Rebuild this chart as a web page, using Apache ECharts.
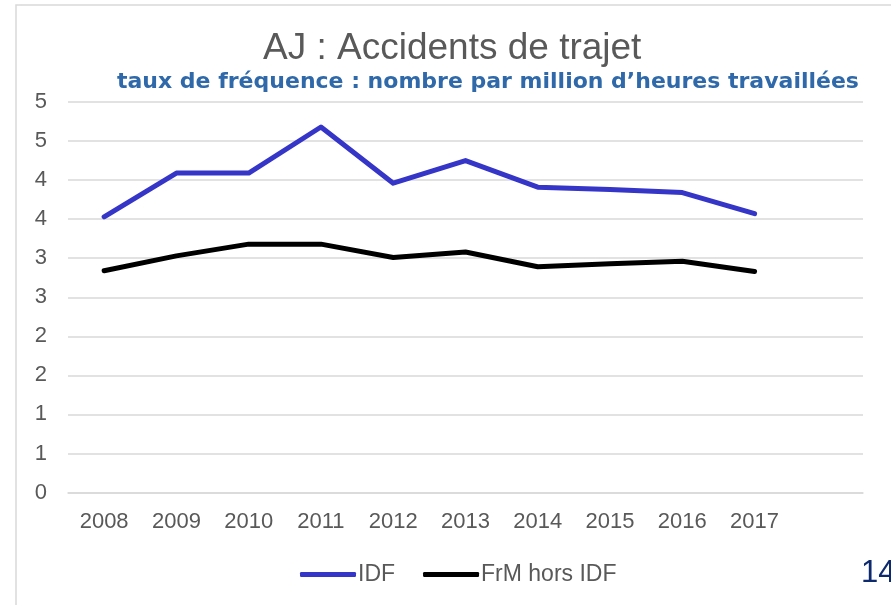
<!DOCTYPE html>
<html lang="fr">
  <head>
    <meta charset="UTF-8" />
    <title>AJ : Accidents de trajet</title>
    <script src="https://cdn.jsdelivr.net/npm/echarts@6/dist/echarts.min.js"></script>
    <style>
      html, body { margin: 0; padding: 0; background: #fff; }
      #main { width: 891px; height: 605px; }
    </style>
  </head>
  <body>
    <div id="main"></div>
    <script>
      // données
      var years = ['2008', '2009', '2010', '2011', '2012', '2013', '2014', '2015', '2016', '2017'];
      var idf = [3.53, 4.09, 4.09, 4.68, 3.96, 4.25, 3.91, 3.88, 3.84, 3.57];
      var frmHorsIdf = [2.84, 3.03, 3.18, 3.18, 3.01, 3.08, 2.89, 2.93, 2.96, 2.83];

      var font = "'Liberation Sans', Arial, sans-serif";
      var chart = echarts.init(document.getElementById('main'));

      chart.setOption({
        animation: false,
        title: [
          {
            text: 'AJ : Accidents de trajet',
            left: 258,
            top: 25,
            textStyle: { fontFamily: font, fontSize: 37, fontWeight: 'normal', color: '#595959' }
          },
          {
            text: 'taux de fréquence : nombre par million d’heures travaillées',
            left: 112,
            top: 66,
            textStyle: { fontFamily: "'DejaVu Sans', sans-serif", fontSize: 22, fontWeight: 'bold', color: '#2f69a9' }
          }
        ],
        legend: {
          left: 295,
          top: 558,
          icon: 'roundRect',
          itemWidth: 56,
          itemHeight: 5,
          itemGap: 28,
          textStyle: { fontFamily: font, fontSize: 23, color: '#595959', padding: [0, 0, 0, -3] },
          data: ['IDF', 'FrM hors IDF']
        },
        grid: { left: 68, right: 28, top: 102, bottom: 112.5, containLabel: false },
        xAxis: {
          type: 'category',
          boundaryGap: true,
          data: years.concat(['']),
          axisLine: { lineStyle: { color: '#d9d9d9', width: 1.5 } },
          axisTick: { show: false },
          axisLabel: { fontFamily: font, fontSize: 22, color: '#595959', margin: 18 }
        },
        yAxis: {
          type: 'value',
          min: 0,
          max: 5,
          interval: 0.5,
          axisLine: { show: false },
          axisTick: { show: false },
          splitLine: { lineStyle: { color: '#d9d9d9', width: 1.5 } },
          axisLabel: {
            fontFamily: font, fontSize: 22, color: '#595959', margin: 21,
            formatter: function (v) { return String(Math.round(v)); }
          }
        },
        series: [
          {
            name: 'IDF',
            type: 'line',
            data: idf,
            symbol: 'none',
            color: '#3535c8',
            lineStyle: { width: 5, color: '#3535c8', cap: 'round', join: 'round' }
          },
          {
            name: 'FrM hors IDF',
            type: 'line',
            data: frmHorsIdf,
            symbol: 'none',
            color: '#000000',
            lineStyle: { width: 5, color: '#000000', cap: 'round', join: 'round' }
          }
        ],
        graphic: [
          {
            type: 'rect',
            silent: true,
            shape: { x: 16, y: 5, width: 1000, height: 1000 },
            style: { fill: 'none', stroke: '#d9d9d9', lineWidth: 1.5 }
          },
          {
            type: 'text',
            left: 861,
            top: 558,
            style: { text: '14', fontFamily: font, fontSize: 31, fill: '#0e2a6e' }
          }
        ]
      });
    </script>
  </body>
</html>
